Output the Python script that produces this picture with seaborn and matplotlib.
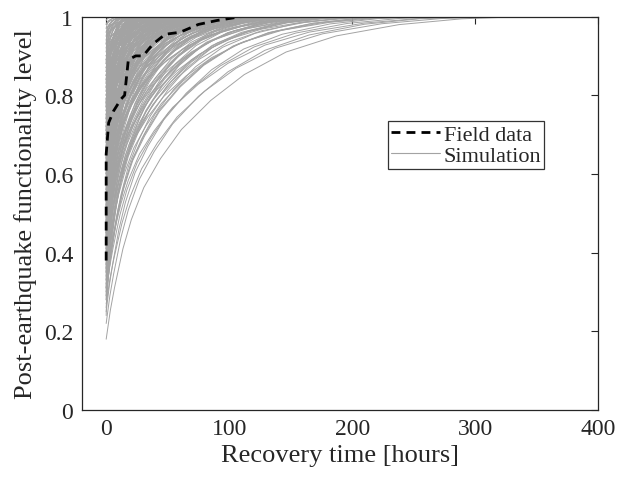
import numpy as np
import pandas as pd
import matplotlib
matplotlib.use("Agg")
import matplotlib.pyplot as plt
import seaborn as sns
from matplotlib.lines import Line2D

# ---- data ----
field_t = [0, 0, 2, 6, 12, 15, 18, 24, 30, 38, 48, 60, 75, 90, 110]
field_y = [0.38, 0.65, 0.73, 0.76, 0.79, 0.80, 0.89, 0.90, 0.90, 0.93, 0.955, 0.96, 0.98, 0.99, 1.0]

# simulation curves: initial functionality and full-recovery time [hours]
sim_start = [0.18, 0.22, 0.25, 0.27, 0.29, 0.30, 0.31, 0.32, 0.33, 0.34, 0.35, 0.36, 0.37, 0.38,
             0.39, 0.40, 0.40, 0.41, 0.42, 0.43, 0.44, 0.45, 0.45, 0.46, 0.47, 0.48, 0.49, 0.50,
             0.50, 0.51, 0.52, 0.53, 0.54, 0.55, 0.55, 0.56, 0.57, 0.58, 0.59, 0.60, 0.60, 0.61,
             0.62, 0.63, 0.64, 0.65, 0.65, 0.66, 0.67, 0.68, 0.69, 0.70, 0.70, 0.71, 0.72, 0.73,
             0.74, 0.75, 0.75, 0.76, 0.77, 0.78, 0.79, 0.80, 0.80, 0.81, 0.82, 0.83, 0.84, 0.85,
             0.85, 0.86, 0.87, 0.88, 0.89, 0.90, 0.90, 0.91, 0.92, 0.93, 0.94, 0.95, 0.96, 0.97, 0.98,
             0.24, 0.28, 0.31, 0.33, 0.35, 0.37, 0.38, 0.40, 0.41, 0.42, 0.43, 0.44, 0.46, 0.47,
             0.48, 0.49, 0.51, 0.52, 0.53, 0.54, 0.56, 0.57, 0.58, 0.59, 0.61, 0.62, 0.63, 0.64,
             0.66, 0.67, 0.68, 0.69, 0.71, 0.72, 0.73, 0.74, 0.76, 0.77, 0.78, 0.79, 0.81, 0.82,
             0.83, 0.84, 0.86, 0.87, 0.88, 0.89, 0.91, 0.92, 0.93, 0.94, 0.95, 0.96, 0.97, 0.98,
             0.99, 0.45, 0.55, 0.65, 0.75, 0.85, 0.50, 0.60, 0.70, 0.80, 0.90, 0.35, 0.42, 0.58,
             0.30, 0.36, 0.39, 0.44, 0.47, 0.52, 0.56, 0.62, 0.66, 0.71, 0.77, 0.83, 0.88, 0.93,
             0.26, 0.29, 0.32, 0.34, 0.36, 0.38, 0.40, 0.42, 0.44, 0.46, 0.48, 0.50, 0.52, 0.54,
             0.56, 0.58, 0.60, 0.62, 0.64, 0.66, 0.68, 0.70, 0.72, 0.74, 0.76, 0.78, 0.80, 0.82,
             0.84, 0.86, 0.28, 0.33, 0.37, 0.41, 0.45, 0.49, 0.53, 0.57, 0.61, 0.65, 0.69, 0.73,
             0.77, 0.81, 0.85, 0.89, 0.31, 0.39, 0.47, 0.55, 0.63, 0.71, 0.79, 0.87]
sim_end = [340, 300, 260, 320, 220, 280, 180, 240, 200, 300, 160, 210, 250, 140, 190, 230, 170,
           120, 260, 150, 200, 110, 180, 140, 230, 100, 160, 130, 210, 90, 170, 120, 150, 190, 80,
           140, 110, 200, 130, 95, 160, 70, 120, 180, 100, 140, 60, 110, 150, 85, 130, 170, 75,
           120, 95, 140, 65, 110, 160, 90, 125, 55, 100, 145, 80, 115, 60, 130, 90, 105, 50, 120,
           75, 95, 140, 60, 110, 85, 70, 100, 45, 80, 60, 90, 40,
           60, 45, 70, 35, 55, 80, 30, 50, 65, 25, 40, 75, 35, 55, 28, 45, 60, 22, 38, 50, 30, 70,
           25, 42, 55, 20, 35, 48, 28, 62, 18, 40, 30, 52, 22, 36, 45, 20, 30, 58, 25, 40, 18, 32,
           22, 45, 16, 28, 20, 35, 15, 25, 18, 22, 15, 20, 12, 90, 85, 80, 70, 65, 100, 95, 90, 85,
           75, 110, 105, 95,
           40, 32, 48, 26, 36, 30, 42, 24, 34, 28, 22, 26, 18, 20,
           150, 120, 180, 100, 140, 90, 160, 110, 130, 85, 150, 95, 120, 75, 140, 100, 115, 70,
           130, 90, 105, 65, 120, 80, 100, 60, 110, 70, 90, 55,
           200, 170, 130, 190, 115, 160, 100, 140, 85, 125, 75, 110, 65, 95, 55, 80,
           240, 210, 180, 160, 150, 130, 120, 100]
# shared recovery profile (fraction of time -> fraction of lost functionality restored)
profile_time = [0, 0.01, 0.02, 0.04, 0.06, 0.09, 0.13, 0.18, 0.25, 0.33, 0.43, 0.55, 0.70, 0.85, 1.0]
profile_frac = [0, 0.09, 0.16, 0.28, 0.37, 0.47, 0.56, 0.65, 0.74, 0.82, 0.89, 0.94, 0.975, 0.993, 1.0]

x_ticks = [0, 100, 200, 300, 400]
y_ticks = [0, 0.2, 0.4, 0.6, 0.8, 1]
y_tick_labels = ["0", "0.2", "0.4", "0.6", "0.8", "1"]

# ---- build tables ----
rows = []
for i, (y0, T) in enumerate(zip(sim_start, sim_end)):
    for u, f in zip(profile_time, profile_frac):
        rows.append((i, u * T, y0 + (1 - y0) * f))
sim_df = pd.DataFrame(rows, columns=["curve", "t", "y"])
field_df = pd.DataFrame({"t": field_t, "y": field_y})

sns.set_theme(style="white")
plt.rcParams["font.family"] = ["Liberation Serif", "DejaVu Serif"]

fig = plt.figure(figsize=(6.18, 4.81), dpi=100)
ax = fig.add_axes([0.132, 0.1455, 0.836, 0.818])

gray = "#a3a3a3"
sns.lineplot(data=sim_df, x="t", y="y", units="curve", estimator=None, sort=False,
             color=gray, lw=0.7, ax=ax, legend=False)
sns.lineplot(data=field_df, x="t", y="y", estimator=None, sort=False,
             color="black", lw=2.0, ax=ax, legend=False)
dash = (0, (3.2, 2.2))
ax.lines[-1].set_linestyle(dash)

ax.set_xlim(-20, 400)
ax.set_ylim(0, 1)
ax.set_xticks(x_ticks)
ax.set_yticks(y_ticks)
ax.set_xticklabels([str(v) for v in x_ticks])
ax.set_yticklabels(y_tick_labels)
ax.tick_params(direction="in", length=5, width=0.8, top=True, right=True,
               labelsize=17, colors="#262626", pad=6)
for s in ax.spines.values():
    s.set_visible(True)
    s.set_color("#262626")
    s.set_linewidth(0.9)

ax.set_xlabel("Recovery time [hours]", fontsize=19, color="#262626", labelpad=3)
ax.set_ylabel("Post-earthquake functionality level", fontsize=19, color="#262626", labelpad=5)

handles = [Line2D([], [], color="black", lw=2.0, linestyle=dash),
           Line2D([], [], color=gray, lw=0.8)]
leg = ax.legend(handles, ["Field data", "Simulation"], loc="upper left",
                bbox_to_anchor=(0.593, 0.734), borderaxespad=0, fontsize=16,
                frameon=True, fancybox=False, handlelength=2.2, handletextpad=0.15,
                borderpad=0.15, labelspacing=0.0)
leg.get_frame().set_edgecolor("black")
leg.get_frame().set_linewidth(0.9)

fig.savefig("out.png", dpi=100)
